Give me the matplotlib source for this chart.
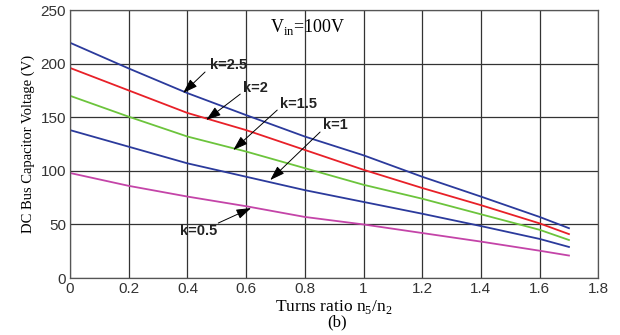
import numpy as np
import matplotlib
matplotlib.use('Agg')
import matplotlib.pyplot as plt

# turns ratio n5/n2
n_ratio = [0, 0.2, 0.4, 0.6, 0.8, 1.0, 1.2, 1.4, 1.6, 1.7]

# DC bus capacitor voltage for each k
v_k05 = [98, 86, 76, 67, 57, 50, 42, 34, 25.5, 21]
v_k1 = [138, 122.5, 107, 94.5, 82, 71, 60, 48.5, 36.5, 29]
v_k15 = [170, 150.5, 132, 118, 102.5, 87, 74, 59.5, 45, 35.5]
v_k2 = [196, 175, 154, 138, 119.5, 101, 84, 68, 51, 41]
v_k25 = [219.5, 195.5, 172.5, 152, 132, 114.5, 94.5, 76, 57, 46.5]

series = [
    (v_k25, '#2b3a9c'),
    (v_k2, '#e82028'),
    (v_k15, '#6cc43c'),
    (v_k1, '#2b3a9c'),
    (v_k05, '#c444a8'),
]

# label, arrow tip, arrow tail, text position
labels = [
    ('k=2.5', (0.385, 172.6), (0.46, 192.2), (0.540, 199)),
    ('k=2', (0.464, 147.4), (0.58, 171.6), (0.631, 177)),
    ('k=1.5', (0.556, 119.4), (0.706, 156.7), (0.779, 162.3)),
    ('k=1', (0.682, 91.4), (0.852, 136.2), (0.905, 142.7)),
    ('k=0.5', (0.617, 65.3), (0.505, 51.3), (0.438, 43.8)),
]

fig = plt.figure(figsize=(6.2, 3.35), dpi=100)
ax = fig.add_axes([0.113, 0.17, 0.852, 0.80])

for vals, col in series:
    ax.plot(n_ratio, vals, color=col, lw=1.3)

for txt, tip, tail, pos in labels:
    ax.annotate('', xy=tip, xytext=tail,
                arrowprops=dict(arrowstyle='-|>,head_length=0.9,head_width=0.3',
                                color='black', lw=0.7, shrinkA=0, shrinkB=0))
    ax.text(pos[0], pos[1], txt, ha='center', va='center', fontsize=10.5,
            fontweight='bold', family='Liberation Sans', color='#222222')

ax.text(0.682, 234, r'V$_{\mathregular{in}}$=100V', ha='left', va='center',
        fontsize=13, family='Liberation Serif')

ax.set_xlim(0, 1.8)
ax.set_ylim(0, 250)
ax.set_xticks(np.arange(0, 1.81, 0.2))
ax.set_xticklabels(['0', '0.2', '0.4', '0.6', '0.8', '1', '1.2', '1.4', '1.6', '1.8'])
ax.set_yticks(np.arange(0, 251, 50))
ax.grid(True, color='#333333', lw=0.9)
ax.tick_params(length=0, labelsize=11, pad=3)
for lbl in ax.get_xticklabels() + ax.get_yticklabels():
    lbl.set_family('Liberation Sans')
    lbl.set_color('#333333')
for sp in ax.spines.values():
    sp.set_color('#555555')
    sp.set_linewidth(0.9)

ax.set_ylabel('DC Bus Capacitor Voltage (V)', family='Liberation Serif', fontsize=10.5, labelpad=4)
ax.set_xlabel(r'Turns ratio n$_{\mathregular{5}}$/n$_{\mathregular{2}}$', family='Liberation Serif',
              fontsize=12.5, labelpad=1)
fig.text(0.544, 0.025, '(b)', ha='center', fontsize=12, family='Liberation Serif')

fig.savefig('out.png', dpi=100, facecolor='white')
